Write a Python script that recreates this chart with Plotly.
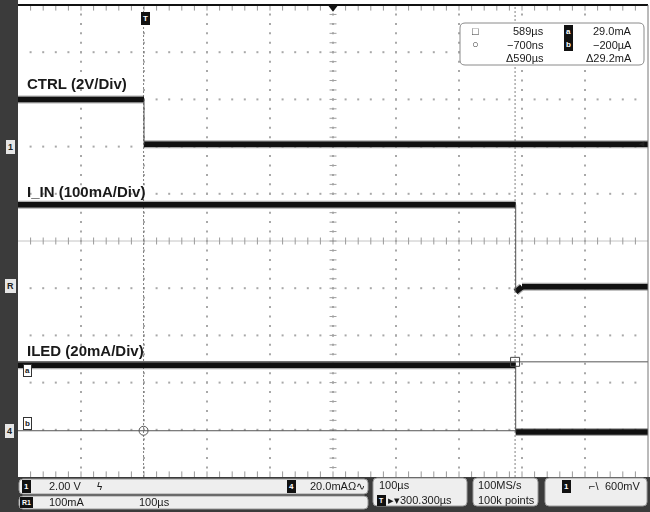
import plotly.graph_objects as go

W, H = 650, 512
PLOT_L, PLOT_R, PLOT_T, PLOT_B = 18, 648, 5, 477

# ---------------- data ----------------
x_range_us = [-200, 800]          # 100 µs/div, 10 div
y_range_div = [0, 10]             # 10 vertical divisions

ctrl_t_us = [-200, 0, 0, 800]
ctrl_v = [2.0, 2.0, 0.1, 0.1]
ctrl_v_per_div = 2.0
ctrl_offset_div = 7.0

iin_t_us = [-200, 590, 590, 600, 800]
iin_ma = [170, 170, -15, -4, -4]
iin_ma_per_div = 100
iin_offset_div = 4.07

iled_t_us = [-200, 590, 590, 800]
iled_ma = [27.6, 27.6, -0.7, -0.7]
iled_ma_per_div = 20
iled_offset_div = 0.99

cursor_t_us = [-0.7, 589]
cursor_iled_ma = [29.0, -0.2]

readout_times = ["589µs", "−700ns", "Δ590µs"]
readout_amps = ["29.0mA", "−200µA", "Δ29.2mA"]

FONT = "Liberation Sans, Arial, sans-serif"
TRACE = "#111111"


def px(x):
    return x / W


def py(y):
    return 1 - y / H


def to_div(vals, scale, offset):
    return [v / scale + offset for v in vals]


def split(t, y):
    tx, ty, vx, vy = [], [], [], []
    for i in range(len(t) - 1):
        if t[i] == t[i + 1]:
            vx += [t[i], t[i + 1], None]
            vy += [y[i], y[i + 1], None]
        else:
            tx += [t[i], t[i + 1], None]
            ty += [y[i], y[i + 1], None]
    return tx, ty, vx, vy


fig = go.Figure()

# ---------------- graticule ----------------
minor_x = [x_range_us[0] + 20 * i for i in range(1, 50)]
minor_y = [0.2 * i for i in range(1, 50)]
gx, gy = [], []
for mx in range(-100, 800, 100):
    for my in minor_y:
        gx.append(mx); gy.append(my)
for my in range(1, 10):
    if my == 5:
        continue
    for mx in minor_x:
        gx.append(mx); gy.append(my)
fig.add_trace(go.Scatter(x=gx, y=gy, mode="markers",
                         marker=dict(symbol="square", size=2, color="#a8a8a8"),
                         hoverinfo="skip"))
# center cross
fig.add_trace(go.Scatter(x=x_range_us, y=[5, 5], mode="lines",
                         line=dict(color="#c4c4c4", width=1), hoverinfo="skip"))
fig.add_trace(go.Scatter(x=minor_x, y=[5] * len(minor_x), mode="markers",
                         marker=dict(symbol="line-ns", size=5, line=dict(width=1, color="#9a9a9a")),
                         hoverinfo="skip"))
fig.add_trace(go.Scatter(x=[300] * len(minor_y), y=minor_y, mode="markers",
                         marker=dict(symbol="line-ew", size=5, line=dict(width=1, color="#a0a0a0")),
                         hoverinfo="skip"))
# edge ticks
for ey in (0, 10):
    fig.add_trace(go.Scatter(x=minor_x, y=[ey] * len(minor_x), mode="markers",
                             marker=dict(symbol="line-ns", size=8, line=dict(width=1, color="#9a9a9a")),
                             hoverinfo="skip"))

# ---------------- cursors ----------------
for ct in cursor_t_us:
    fig.add_trace(go.Scatter(x=[ct, ct], y=y_range_div, mode="lines",
                             line=dict(color="#808080", width=1, dash="2px,2px"),
                             hoverinfo="skip"))
cur_y = to_div(cursor_iled_ma, iled_ma_per_div, iled_offset_div)
for cy in cur_y:
    fig.add_trace(go.Scatter(x=x_range_us, y=[cy, cy], mode="lines",
                             line=dict(color="#555555", width=1), hoverinfo="skip"))

# ---------------- waveforms ----------------
channels = [
    (ctrl_t_us, to_div(ctrl_v, ctrl_v_per_div, ctrl_offset_div)),
    (iin_t_us, to_div(iin_ma, iin_ma_per_div, iin_offset_div)),
    (iled_t_us, to_div(iled_ma, iled_ma_per_div, iled_offset_div)),
]
for t, yd in channels:
    tx, ty, vx, vy = split(t, yd)
    fig.add_trace(go.Scatter(x=tx, y=ty, mode="lines",
                             line=dict(color="#333333", width=8), opacity=0.4,
                             hoverinfo="skip"))
    fig.add_trace(go.Scatter(x=tx, y=ty, mode="lines",
                             line=dict(color=TRACE, width=5.5), hoverinfo="skip"))
    fig.add_trace(go.Scatter(x=vx, y=vy, mode="lines",
                             line=dict(color="#555555", width=1), hoverinfo="skip"))

# cursor intersection markers
fig.add_trace(go.Scatter(x=[cursor_t_us[1]], y=[cur_y[0]], mode="markers",
                         marker=dict(symbol="square-open", size=9, color="#444", line=dict(width=1)),
                         hoverinfo="skip"))
fig.add_trace(go.Scatter(x=[cursor_t_us[0]], y=[cur_y[1]], mode="markers",
                         marker=dict(symbol="circle-open", size=9, color="#555", line=dict(width=1)),
                         hoverinfo="skip"))
# top center marker
fig.add_trace(go.Scatter(x=[300], y=[9.95], mode="markers", cliponaxis=False,
                         marker=dict(symbol="triangle-down", size=9, color="#111"),
                         hoverinfo="skip"))

# ---------------- shapes ----------------
shapes = []


def rrect(x0, y0, x1, y1, r, fill, line="#9a9a9a"):
    pts = (f"M {px(x0 + r)},{py(y0)} L {px(x1 - r)},{py(y0)} Q {px(x1)},{py(y0)} {px(x1)},{py(y0 + r)} "
           f"L {px(x1)},{py(y1 - r)} Q {px(x1)},{py(y1)} {px(x1 - r)},{py(y1)} "
           f"L {px(x0 + r)},{py(y1)} Q {px(x0)},{py(y1)} {px(x0)},{py(y1 - r)} "
           f"L {px(x0)},{py(y0 + r)} Q {px(x0)},{py(y0)} {px(x0 + r)},{py(y0)} Z")
    shapes.append(dict(type="path", xref="paper", yref="paper", path=pts,
                       fillcolor=fill, line=dict(color=line, width=1), layer="above"))


DARK = "#3b3b3b"
# left dark strip and bottom status bar
shapes.append(dict(type="rect", xref="paper", yref="paper", x0=0, x1=px(PLOT_L), y0=0, y1=1,
                   fillcolor=DARK, line=dict(width=0), layer="above"))
shapes.append(dict(type="rect", xref="paper", yref="paper", x0=0, x1=1, y0=0, y1=py(PLOT_B),
                   fillcolor=DARK, line=dict(width=0), layer="above"))
# top border & right border
shapes.append(dict(type="line", xref="paper", yref="paper", x0=px(PLOT_L), x1=px(PLOT_R),
                   y0=py(PLOT_T), y1=py(PLOT_T), line=dict(color="#111", width=2), layer="above"))
shapes.append(dict(type="line", xref="paper", yref="paper", x0=px(PLOT_R), x1=px(PLOT_R),
                   y0=py(PLOT_T), y1=py(PLOT_B), line=dict(color="#777", width=1), layer="above"))

# readout box
rrect(460, 23, 644, 65, 5, "#ffffff", "#8a8a8a")
# status boxes
rrect(19, 479, 368, 494, 4, "#eeeeee")
rrect(19, 496, 368, 509, 4, "#eeeeee")
rrect(373, 478, 467, 506, 4, "#eeeeee")
rrect(473, 478, 538, 506, 4, "#eeeeee")
rrect(545, 478, 647, 506, 4, "#eeeeee")

# ---------------- annotations ----------------
ann = []


def txt(x, y, s, size=11, color="#1a1a1a", xanchor="left", bold=False, font=FONT, **kw):
    ann.append(dict(x=px(x), y=py(y), xref="paper", yref="paper", text=f"<b>{s}</b>" if bold else s,
                    showarrow=False, xanchor=xanchor, yanchor="middle",
                    font=dict(size=size, color=color, family=font), **kw))


def badge(x, y, s, fg="#ffffff", bg="#111111", size=8, border=None):
    ann.append(dict(x=px(x), y=py(y), xref="paper", yref="paper", text=f"<b>{s}</b>",
                    showarrow=False, xanchor="center", yanchor="middle",
                    font=dict(size=size, color=fg, family=FONT), bgcolor=bg, borderpad=1,
                    bordercolor=border or bg, borderwidth=1))


# channel labels
txt(25, 83, "CTRL (2V/Div)", size=15, bold=True)
txt(25, 191, "I_IN (100mA/Div)", size=15, bold=True)
txt(25, 350, "ILED (20mA/Div)", size=15, bold=True)

# trigger marker
badge(145, 18, "T", size=8)
# left ground markers
badge(10, 147, "1", fg="#222", bg="#e6e6e6", size=9)
badge(10, 286, "R", fg="#222", bg="#e6e6e6", size=9)
badge(9, 431, "4", fg="#222", bg="#e6e6e6", size=9)
# right trigger level marker
txt(647, 143, "◀", size=7, color="#222", xanchor="right")
# cursor source badges
badge(27, 370, "a", fg="#222", bg="#ffffff", size=8, border="#333")
badge(27, 423, "b", fg="#222", bg="#ffffff", size=8, border="#333")

# readout text
txt(475, 31, "□", size=11, color="#333", xanchor="center")
txt(475, 44, "○", size=11, color="#333", xanchor="center")
for i, s in enumerate(readout_times):
    txt(546, 31 + 13.5 * i, s, size=11, xanchor="right")
for i, s in enumerate(readout_amps):
    txt(634, 31 + 13.5 * i, s, size=11, xanchor="right")
badge(568, 31, "a", size=8)
badge(568, 44, "b", size=8)

# status bar text
badge(26, 486, "1", size=8)
txt(47, 486, "2.00 V")
txt(95, 486, "ϟ", size=10)
badge(291, 486, "4", size=8)
txt(367, 486, "20.0mAΩ∿", xanchor="right")
badge(26, 502, "R1", size=7)
txt(47, 502, "100mA")
txt(137, 502, "100µs")
txt(377, 485, "100µs")
badge(381, 500, "T", size=7)
txt(386, 500, "▸▾300.300µs")
txt(476, 485, "100MS/s")
txt(476, 500, "100k points")
badge(566, 486, "1", size=8)
txt(587, 486, "⌐\\", size=11)
txt(643, 486, "600mV", xanchor="right")

fig.update_layout(
    width=W, height=H, margin=dict(l=0, r=0, t=0, b=0),
    paper_bgcolor="#ffffff", plot_bgcolor="#ffffff", showlegend=False,
    xaxis=dict(domain=[px(PLOT_L), px(PLOT_R)], range=x_range_us, showgrid=False,
               zeroline=False, showticklabels=False, ticks="", fixedrange=True),
    yaxis=dict(domain=[py(PLOT_B), py(PLOT_T)], range=y_range_div, showgrid=False,
               zeroline=False, showticklabels=False, ticks="", fixedrange=True),
    shapes=shapes, annotations=ann,
)

fig.write_html("out.html", config={"displayModeBar": False},
               post_script="document.body.style.margin='0';document.body.style.overflow='hidden';")
